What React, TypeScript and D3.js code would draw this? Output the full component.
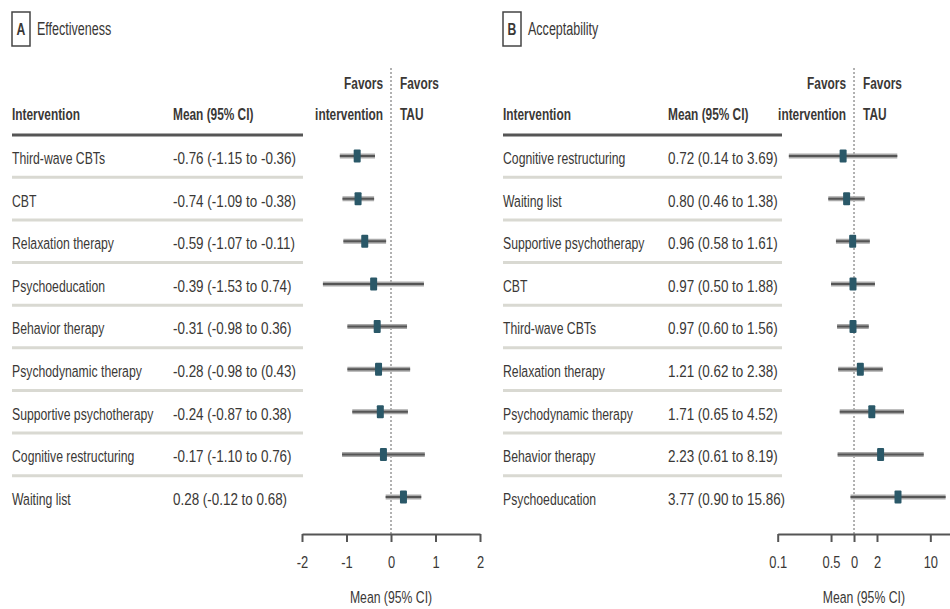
import * as d3 from "d3";
import { useEffect, useRef } from "react";

// Panel A: effectiveness (mean difference)
const namesA = ["Third-wave CBTs", "CBT", "Relaxation therapy", "Psychoeducation", "Behavior therapy",
  "Psychodynamic therapy", "Supportive psychotherapy", "Cognitive restructuring", "Waiting list"];
const meanA = [-0.76, -0.74, -0.59, -0.39, -0.31, -0.28, -0.24, -0.17, 0.28];
const lowA = [-1.15, -1.09, -1.07, -1.53, -0.98, -0.98, -0.87, -1.10, -0.12];
const highA = [-0.36, -0.38, -0.11, 0.74, 0.36, 0.43, 0.38, 0.76, 0.68];
const labelA = ["-0.76 (-1.15 to -0.36)", "-0.74 (-1.09 to -0.38)", "-0.59 (-1.07 to -0.11)",
  "-0.39 (-1.53 to 0.74)", "-0.31 (-0.98 to 0.36)", "-0.28 (-0.98 to (0.43)", "-0.24 (-0.87 to 0.38)",
  "-0.17 (-1.10 to 0.76)", "0.28 (-0.12 to 0.68)"];
const ticksA = [-2, -1, 0, 1, 2];

// Panel B: acceptability (odds ratio, log scale)
const namesB = ["Cognitive restructuring", "Waiting list", "Supportive psychotherapy", "CBT", "Third-wave CBTs",
  "Relaxation therapy", "Psychodynamic therapy", "Behavior therapy", "Psychoeducation"];
const meanB = [0.72, 0.80, 0.96, 0.97, 0.97, 1.21, 1.71, 2.23, 3.77];
const lowB = [0.14, 0.46, 0.58, 0.50, 0.60, 0.62, 0.65, 0.61, 0.90];
const highB = [3.69, 1.38, 1.61, 1.88, 1.56, 2.38, 4.52, 8.19, 15.86];
const labelB = ["0.72 (0.14 to 3.69)", "0.80 (0.46 to 1.38)", "0.96 (0.58 to 1.61)", "0.97 (0.50 to 1.88)",
  "0.97 (0.60 to 1.56)", "1.21 (0.62 to 2.38)", "1.71 (0.65 to 4.52)", "2.23 (0.61 to 8.19)",
  "3.77 (0.90 to 15.86)"];
const ticksB = [0.1, 0.5, 1, 2, 10];
const tickLabelsB = ["0.1", "0.5", "0", "2", "10"];

const FONT = "'Liberation Sans', Arial, sans-serif";
const INK = "#3a3836";
const AXIS_Y = 534;

// text squeezed horizontally around its anchor point (condensed look)
function T({ x, y, children, anchor = "start", size = 17, weight = "normal", sx = 0.72, dy = "0.35em" }) {
  return (
    <text transform={`translate(${x},${y}) scale(${sx},1)`} dy={dy} textAnchor={anchor}
      fontSize={size} fontWeight={weight}>{children}</text>
  );
}

function Panel({ letter, title, left, meanX, tableRight, names, means, lows, highs, labels, x, axisTicks, axisFormat }) {
  const axisRef = useRef(null);
  const y = d3.scalePoint().domain(names).range([156, 497]);
  const step = y.step();
  const zero = x(letter === "A" ? 0 : 1);
  const [r0, r1] = x.range();

  useEffect(() => {
    const axis = d3.axisBottom(x).tickValues(axisTicks).tickSize(8).tickSizeOuter(0)
      .tickFormat((d, i) => axisFormat(d, i));
    const g = d3.select(axisRef.current).attr("transform", `translate(0,${AXIS_Y})`).call(axis);
    g.select(".domain").attr("stroke", "#555").attr("stroke-width", 2);
    g.selectAll(".tick line").attr("stroke", "#555").attr("stroke-width", 2);
    g.selectAll(".tick text").attr("fill", INK).attr("font-size", 17).attr("font-family", FONT)
      .attr("dy", "1.35em").attr("transform", "scale(0.76,1)");
  }, []);

  return (
    <g fontFamily={FONT} fill={INK}>
      <rect x={left} y={12} width={18} height={34} fill="none" stroke="#444" strokeWidth={1.5} />
      <T x={left + 9} y={29} anchor="middle" size={17} weight="bold">{letter}</T>
      <T x={left + 25} y={28} size={19} sx={0.66}>{title}</T>

      <T x={left} y={114} size={16.5} weight="bold">Intervention</T>
      <T x={meanX} y={114} size={16.5} weight="bold">Mean (95% CI)</T>
      <T x={zero - 8} y={83} size={16.5} anchor="end" weight="bold">Favors</T>
      <T x={zero - 8} y={114} size={16.5} anchor="end" weight="bold">intervention</T>
      <T x={zero + 9} y={83} size={16.5} weight="bold">Favors</T>
      <T x={zero + 9} y={114} size={16.5} weight="bold">TAU</T>
      <line x1={left} x2={tableRight} y1={135} y2={135} stroke="#555" strokeWidth={3} />

      <line x1={zero} x2={zero} y1={68} y2={AXIS_Y} stroke="#888" strokeWidth={1.3} strokeDasharray="2,2" />

      {names.map((n, i) => (
        <g key={n}>
          {i < names.length - 1 && (
            <line x1={left} x2={tableRight} y1={y(n) + step / 2} y2={y(n) + step / 2} stroke="#d9d9d2" strokeWidth={3} />
          )}
          <T x={left} y={y(n) + 2}>{n}</T>
          <T x={meanX} y={y(n) + 2} sx={0.79}>{labels[i]}</T>
          <line x1={x(lows[i])} x2={x(highs[i])} y1={y(n)} y2={y(n)} stroke="#a9a9a9" strokeWidth={5} />
          <line x1={x(lows[i])} x2={x(highs[i])} y1={y(n)} y2={y(n)} stroke="#555" strokeWidth={2} />
          <rect x={x(means[i]) - 3.5} y={y(n) - 6.5} width={7} height={13} rx={1} fill="#2a5868" />
        </g>
      ))}

      <g ref={axisRef} />
      <T x={(r0 + Math.min(r1, 950)) / 2} y={597} anchor="middle">Mean (95% CI)</T>
    </g>
  );
}

export default function App() {
  const xA = d3.scaleLinear().domain([-2, 2]).range([302, 480]);
  const xB = d3.scaleLog().domain([0.1, 20]).range([777.7, 953.3]);
  return (
    <svg width={950} height={609} style={{ position: "absolute", left: 0, top: 0, background: "#fff" }}>
      <Panel letter="A" title="Effectiveness" left={12} meanX={173} tableRight={303}
        names={namesA} means={meanA} lows={lowA} highs={highA} labels={labelA}
        x={xA} axisTicks={ticksA} axisFormat={(d) => String(d)} />
      <Panel letter="B" title="Acceptability" left={503} meanX={668} tableRight={782}
        names={namesB} means={meanB} lows={lowB} highs={highB} labels={labelB}
        x={xB} axisTicks={ticksB} axisFormat={(d, i) => tickLabelsB[i]} />
    </svg>
  );
}
